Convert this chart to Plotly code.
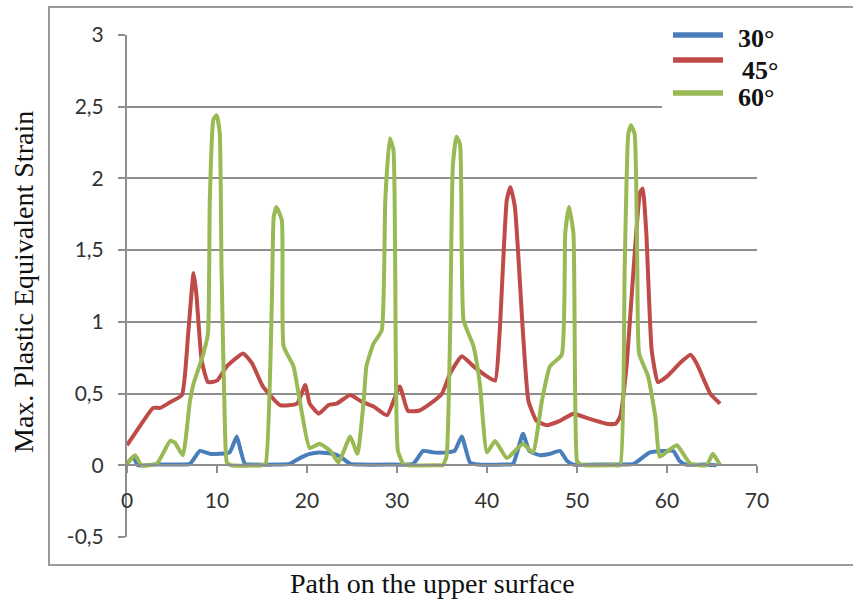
import plotly.graph_objects as go

# Path positions and strain values for each inclination angle
x_30 = [0, 0.7, 1.2, 3.0, 5.0, 7.0, 8.1, 9.2, 10.3, 11.4, 12.2, 12.6, 13.1, 14.0, 16.5, 18.1, 19.2,
        20.3, 21.4, 22.9, 23.7, 24.8, 26.0, 29.0, 31.8, 32.9, 34.0, 35.5, 36.4, 37.2, 38.1, 39.0,
        42.0, 42.9, 44.0, 44.7, 45.9, 47.0, 48.1, 48.9, 49.6, 52.0, 55.0, 56.3, 58.1, 59.6, 60.7,
        61.4, 62.1, 64.0, 65.5]
y_30 = [0.01, 0.06, 0.0, 0.005, 0.005, 0.01, 0.10, 0.08, 0.08, 0.09, 0.20, 0.11, 0.01, 0.005, 0.005,
        0.01, 0.05, 0.08, 0.09, 0.08, 0.06, 0.01, 0.005, 0.005, 0.01, 0.10, 0.09, 0.09, 0.10, 0.20,
        0.02, 0.005, 0.005, 0.01, 0.22, 0.10, 0.07, 0.08, 0.10, 0.03, 0.005, 0.005, 0.005, 0.01,
        0.09, 0.10, 0.10, 0.03, 0.005, 0.005, 0.0]

x_45 = [0, 1.4, 2.9, 3.7, 4.8, 6.1, 6.8, 7.4, 7.7, 8.3, 9.0, 10.0, 11.1, 12.9, 13.9, 15.1, 17.0,
        18.9, 19.8, 20.3, 21.3, 22.4, 23.3, 24.8, 25.9, 27.4, 28.9, 30.3, 31.2, 32.4, 33.7, 35.0,
        35.9, 37.2, 38.5, 40.0, 40.9, 41.4, 42.2, 42.6, 43.1, 44.0, 44.6, 45.5, 46.6, 48.1, 49.6,
        51.1, 53.3, 54.3, 54.8, 55.5, 56.3, 57.0, 57.3, 57.7, 58.3, 59.0, 60.0, 61.4, 62.6, 63.3,
        64.8, 65.9]
y_45 = [0.14, 0.27, 0.40, 0.40, 0.44, 0.49, 0.92, 1.34, 1.20, 0.73, 0.58, 0.59, 0.69, 0.78, 0.71,
        0.55, 0.42, 0.43, 0.56, 0.43, 0.36, 0.42, 0.43, 0.49, 0.45, 0.41, 0.35, 0.55, 0.38, 0.38,
        0.43, 0.50, 0.64, 0.76, 0.69, 0.62, 0.59, 0.92, 1.85, 1.94, 1.80, 0.92, 0.45, 0.31, 0.28,
        0.31, 0.36, 0.33, 0.29, 0.29, 0.34, 0.69, 1.38, 1.90, 1.93, 1.62, 0.80, 0.58, 0.62, 0.71,
        0.77, 0.71, 0.50, 0.43]

x_60 = [0, 0.9, 1.6, 3.3, 4.8, 5.3, 6.2, 7.0, 7.4, 8.5, 9.0, 9.2, 9.6, 9.96, 10.3, 10.5, 10.9,
        11.1, 11.6, 15.0, 15.4, 16.1, 16.3, 16.6, 17.2, 17.4, 18.5, 19.2, 20.3, 21.4, 22.6, 23.5,
        24.8, 25.6, 26.3, 26.6, 27.4, 28.3, 28.7, 29.2, 29.6, 29.8, 30.1, 30.7, 31.2, 34.7, 35.1,
        35.5, 35.9, 36.2, 36.6, 37.0, 37.4, 38.5, 39.2, 40.0, 40.9, 42.2, 44.0, 45.1, 46.1, 47.0,
        48.3, 48.7, 49.1, 49.6, 50.0, 50.3, 50.8, 54.3, 54.8, 55.3, 55.7, 56.0, 56.4, 56.7, 56.9,
        57.9, 58.7, 59.2, 60.1, 61.1, 61.8, 62.6, 64.4, 65.1, 65.9]
y_60 = [0.01, 0.07, 0.0, 0.01, 0.17, 0.16, 0.07, 0.45, 0.57, 0.78, 0.92, 1.85, 2.41, 2.44, 2.32,
        1.38, 0.22, 0.02, 0.0, 0.0, 0.01, 1.15, 1.73, 1.80, 1.71, 0.83, 0.69, 0.45, 0.12, 0.15,
        0.10, 0.02, 0.20, 0.08, 0.45, 0.69, 0.85, 0.94, 1.85, 2.28, 2.20, 1.38, 0.10, 0.01, 0.0,
        0.0, 0.0, 0.06, 0.92, 2.08, 2.29, 2.24, 1.01, 0.83, 0.57, 0.09, 0.17, 0.05, 0.15, 0.09,
        0.45, 0.69, 0.77, 1.62, 1.80, 1.62, 0.03, 0.01, 0.0, 0.0, 0.0, 1.38, 2.31, 2.37, 2.31,
        1.38, 0.78, 0.62, 0.34, 0.06, 0.10, 0.14, 0.08, 0.01, 0.0, 0.08, 0.0]

series = [("30°", x_30, y_30, "#4A7EBB"),
          ("45°", x_45, y_45, "#BE4B48"),
          ("60°", x_60, y_60, "#98B954")]

y_ticks = [-0.5, 0, 0.5, 1, 1.5, 2, 2.5, 3]
y_ticktext = ["-0,5", "0", "0,5", "1", "1,5", "2", "2,5", "3"]
x_ticks = [0, 10, 20, 30, 40, 50, 60, 70]

GRID = "#8e8e8e"
TICKFONT = dict(family="Lato", size=21, color="#333333")
SERIF = "Liberation Serif"

fig = go.Figure()
for name, xs, ys, color in series:
    fig.add_trace(go.Scatter(x=xs, y=ys, name=name, mode="lines",
                             line=dict(color=color, width=4, shape="spline", smoothing=0.45),
                             showlegend=False))

# Plot area spans px 127..757 horizontally and 35..537 vertically
L, R, T, B = 127, 96, 35, 66
W, H = 853, 603
pw, ph = W - L - R, H - T - B

def px_x(p):
    return (p - L) / pw

def px_y(p):
    return (H - B - p) / ph

shapes = [
    # outer chart frame
    dict(type="rect", xref="paper", yref="paper", x0=px_x(49), x1=px_x(870),
         y0=px_y(565), y1=px_y(7), line=dict(color="#9a9a9a", width=2), layer="above"),
    # legend background
    dict(type="rect", xref="paper", yref="paper", x0=px_x(662), x1=px_x(840),
         y0=px_y(118), y1=px_y(18), fillcolor="white", line=dict(width=0), layer="above"),
]
annotations = []
legend_rows = [(35, 38), (60, 70), (93, 97)]
for (name, _, _, color), (ly, ty) in zip(series, legend_rows):
    shapes.append(dict(type="line", xref="paper", yref="paper", x0=px_x(673), x1=px_x(723),
                       y0=px_y(ly), y1=px_y(ly), line=dict(color=color, width=5.5), layer="above"))
    annotations.append(dict(text=name, xref="paper", yref="paper", x=px_x(736 if name != "45°" else 740),
                            y=px_y(ty), xanchor="left", yanchor="middle", showarrow=False,
                            font=dict(family=SERIF, size=26, color="#111111", weight="bold")))

annotations.append(dict(text="Max. Plastic Equivalent Strain", xref="paper", yref="paper",
                        x=px_x(23), y=px_y(282), textangle=-90, showarrow=False,
                        xanchor="center", yanchor="middle",
                        font=dict(family=SERIF, size=28, color="#111111")))
annotations.append(dict(text="Path on the upper surface", xref="paper", yref="paper",
                        x=px_x(432), y=px_y(583), showarrow=False,
                        xanchor="center", yanchor="middle",
                        font=dict(family=SERIF, size=28, color="#111111")))

fig.update_layout(
    width=W, height=H, autosize=False,
    margin=dict(l=L, r=R, t=T, b=B, pad=0),
    paper_bgcolor="white", plot_bgcolor="white",
    shapes=shapes, annotations=annotations,
    xaxis=dict(range=[0, 70], tickvals=x_ticks, showgrid=False, zeroline=False,
               showline=True, linecolor=GRID, linewidth=2,
               ticks="outside", ticklen=7, tickwidth=2, tickcolor=GRID,
               anchor="free", position=0.5 / 3.5, ticklabelstandoff=10,
               tickfont=TICKFONT),
    yaxis=dict(range=[-0.5, 3], tickvals=y_ticks, ticktext=y_ticktext,
               showgrid=True, gridcolor=GRID, gridwidth=2, zeroline=False,
               showline=True, linecolor=GRID, linewidth=2,
               ticks="outside", ticklen=7, tickwidth=2, tickcolor=GRID,
               ticklabelstandoff=10, tickfont=TICKFONT),
)

fig.write_html("out.html")
